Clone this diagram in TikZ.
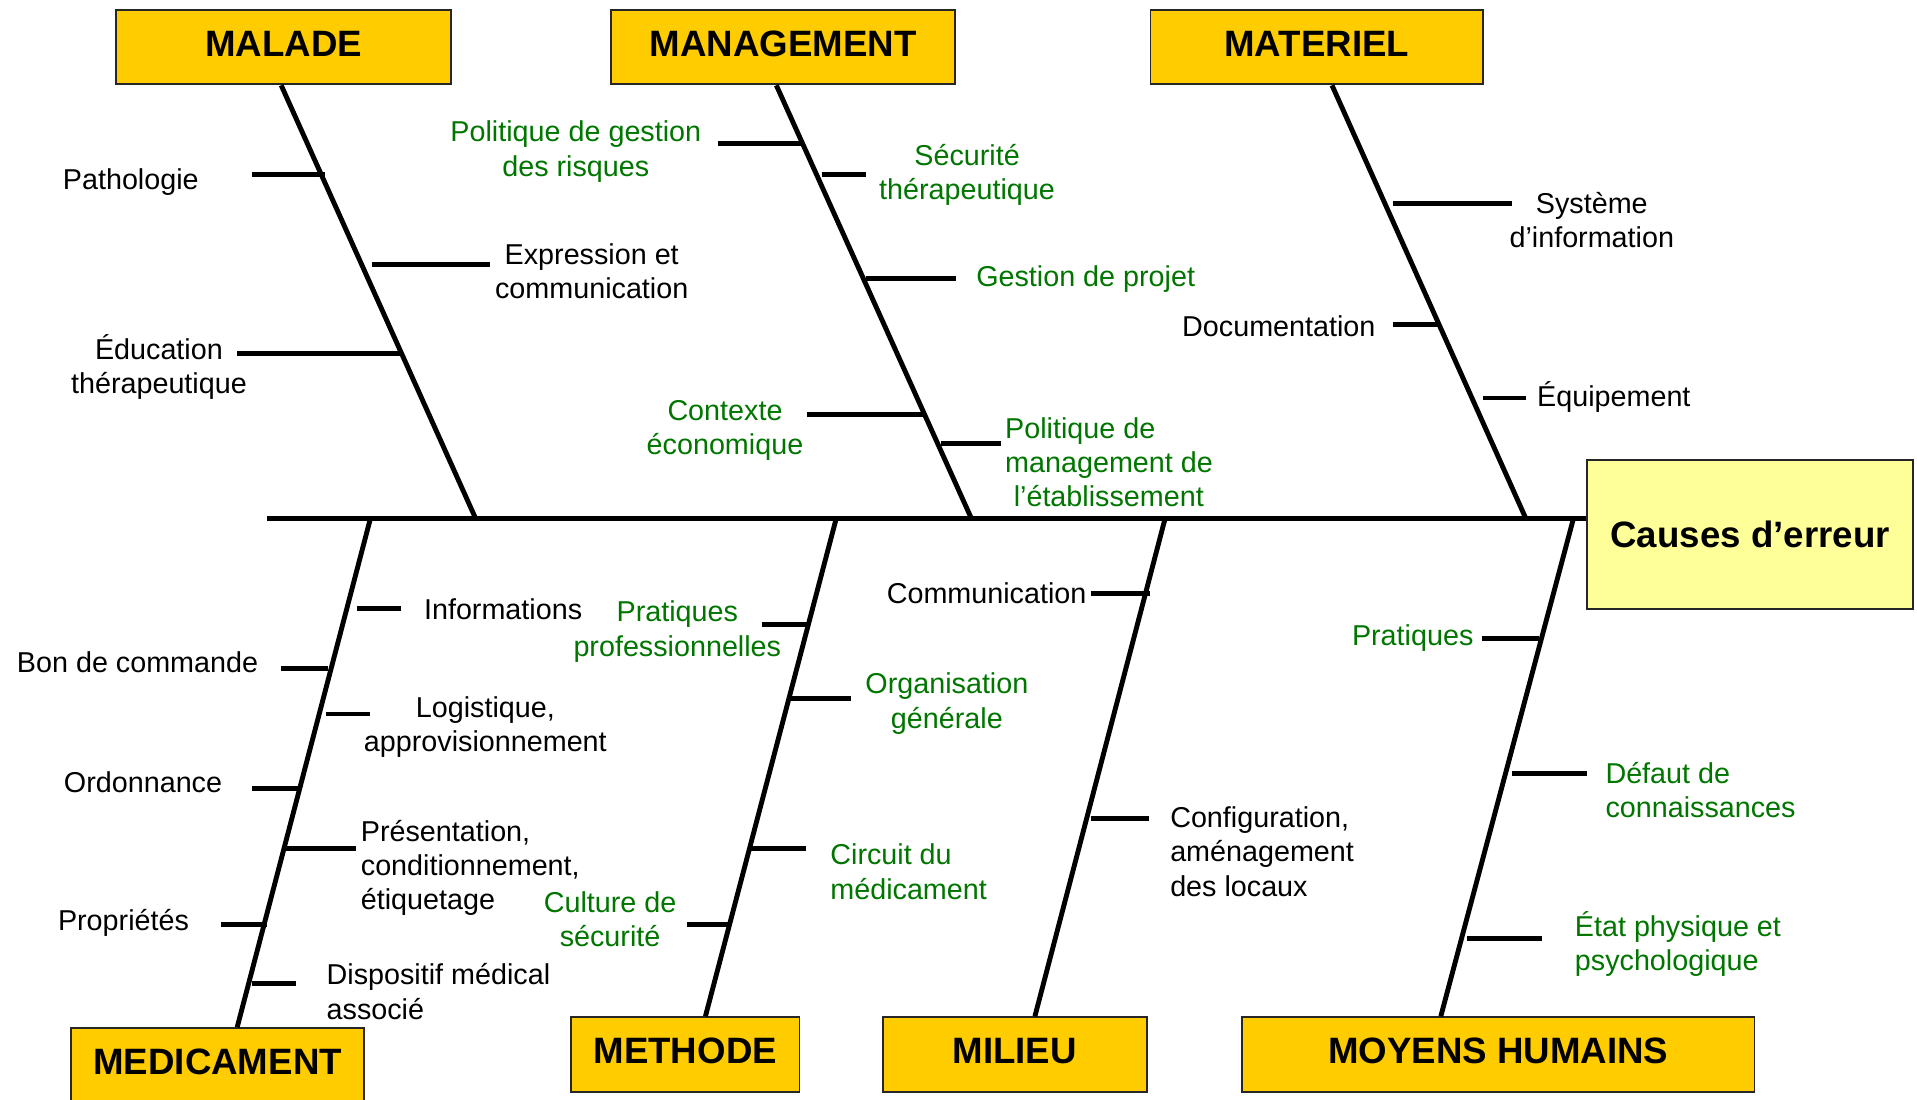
\documentclass[tikz,border=0pt]{standalone}
\usepackage{fontspec}
\setmainfont{Liberation Sans}
\definecolor{hdr}{HTML}{FFCC00}
\definecolor{eff}{HTML}{FFFF99}
\definecolor{grn}{RGB}{0,118,0}
\definecolor{edge}{HTML}{262626}
\begin{document}
\begin{tikzpicture}[x=1pt,y=-1pt,
  boxbase/.style={draw=edge, line width=1.5pt, inner sep=0pt,
    font=\fontsize{30}{36}\selectfont\bfseries},
  cat/.style={boxbase, fill=hdr, text height=21.5pt, text depth=6pt},
  effbox/.style={boxbase, fill=eff},
  bone/.style={line width=4pt, black},
  tick/.style={line width=4pt, black},
  lbl/.style={inner sep=0pt, align=center, yshift=-2pt, font=\fontsize{23.5}{28}\selectfont},
  glbl/.style={lbl, text=grn},
  lleft/.style={lbl, align=left, anchor=west},
  gleft/.style={glbl, align=left, anchor=west}]
\useasboundingbox (0,0) rectangle (1568,899);
\clip (0,0) rectangle (1568,899);

% category boxes
\node[cat, minimum width=274pt, minimum height=61pt] (malade) at (232,38.5) {MALADE};
\node[cat, minimum width=281pt, minimum height=61pt] (manag) at (640.5,38.5) {MANAGEMENT};
\node[cat, minimum width=272pt, minimum height=61pt] (mater) at (1077,38.5) {MATERIEL};
\node[effbox, minimum width=267pt, minimum height=122pt] (effet) at (1431.5,437) {Causes d’erreur};
\node[cat, minimum width=240pt, minimum height=60pt] (medic) at (178,871) {MEDICAMENT};
\node[cat, minimum width=187pt, minimum height=61pt] (meth) at (560.5,862.5) {METHODE};
\node[cat, minimum width=216pt, minimum height=61pt] (milieu) at (830,862.5) {MILIEU};
\node[cat, minimum width=419pt, minimum height=61pt] (moyens) at (1225.5,862.5) {MOYENS HUMAINS};

% spine
\coordinate (s0) at (218,424);
\draw[bone] (s0) -- (s0 -| effet.west);

% joints on spine
\coordinate (jMal) at (389,424);
\coordinate (jMan) at (794.5,424);
\coordinate (jMat) at (1248,424);
\coordinate (jMed) at (303,424);
\coordinate (jMet) at (684,424);
\coordinate (jMil) at (953,424);
\coordinate (jMoy) at (1287,424);

% bones
\draw[bone] ([xshift=-2pt]malade.south) -- (jMal);
\draw[bone] ([xshift=-5.5pt]manag.south) -- (jMan);
\draw[bone] ([xshift=12.5pt]mater.south) -- (jMat);
\draw[bone] (jMed) -- ([xshift=16pt]medic.north);
\draw[bone] (jMet) -- ([xshift=16.5pt]meth.north);
\draw[bone] (jMil) -- ([xshift=16.5pt]milieu.north);
\draw[bone] (jMoy) -- ([xshift=-47pt]moyens.north);

% ticks
\foreach \n/\a/\b/\y in {
  t1/206/266/143, t2/304/401/216, t3/194/329/289,
  t4/587/658/117.5, t5/672/708/142.5, t6/708/782/228, t7/660/755/339, t8/770/819/363,
  t9/1139/1237/166.5, t10/1139/1176/265.5, t11/1213/1248/325.5,
  t12/292/328/498, t13/230/268/547, t14/267/303/584, t15/206/244/645,
  t16/232/291/694, t17/181/218/756, t18/206/242.5/804.5,
  t19/623/660/510.5, t20/647/696/571.5, t21/612/659/694, t22/562/596/756,
  t23/892/941/485.5, t24/892/940/669.5,
  t25/1212/1259/522.5, t26/1237/1298/632.5, t27/1200/1261/767.5}{
  \coordinate (\n a) at (\a,\y);
  \coordinate (\n b) at (\b,\y);
  \draw[tick] (\n a) -- (\n b);
}

% MALADE labels
\node[lbl] (pathol) at (107,147) {Pathologie};
\node[lbl] (expr) at (484,220) {Expression et\\communication};
\node[lbl] (educ) at (130,298.5) {Éducation\\thérapeutique};

% MANAGEMENT labels
\node[glbl] (polrisk) at (471,122) {Politique de gestion\\des risques};
\node[glbl] (secther) at (791,141) {Sécurité\\thérapeutique};
\node[glbl] (gestproj) at (888,226) {Gestion de projet};
\node[glbl] (contexte) at (593,350) {Contexte\\économique};
\node[gleft] (polman) at (822,376) {Politique de\\management de\\\hspace*{7pt}l’établissement};

% MATERIEL labels
\node[lbl] (sysinfo) at (1302,178) {Système\\d’information};
\node[lbl] (docu) at (1046,265) {Documentation};
\node[lbl] (equip) at (1320,323) {Équipement};

% MEDICAMENT labels
\node[lbl] (infos) at (411.5,496) {Informations};
\node[lbl] (boncmd) at (112.5,540) {Bon de commande};
\node[lbl] (logist) at (397,593) {Logistique,\\approvisionnement};
\node[lbl] (ordon) at (117,638) {Ordonnance};
\node[lleft] (present) at (295,708) {Présentation,\\conditionnement,\\étiquetage};
\node[lbl] (propr) at (101,753) {Propriétés};
\node[lleft] (dispos) at (267,809) {Dispositif médical\\associé};

% METHODE labels
\node[glbl] (pratpro) at (554,514.5) {Pratiques\\professionnelles};
\node[glbl] (orga) at (774.5,573.5) {Organisation\\générale};
\node[gleft] (circuit) at (679,711) {Circuit du\\médicament};
\node[glbl] (culture) at (499,750) {Culture de\\sécurité};

% MILIEU labels
\node[lbl] (commu) at (807,483) {Communication};
\node[lleft] (config) at (957,694.5) {Configuration,\\aménagement\\des locaux};

% MOYENS HUMAINS labels
\node[glbl] (prat) at (1155.5,520) {Pratiques};
\node[gleft] (defaut) at (1313,644.5) {Défaut de\\connaissances};
\node[gleft] (etat) at (1288,770) {État physique et\\psychologique};
\end{tikzpicture}
\end{document}
